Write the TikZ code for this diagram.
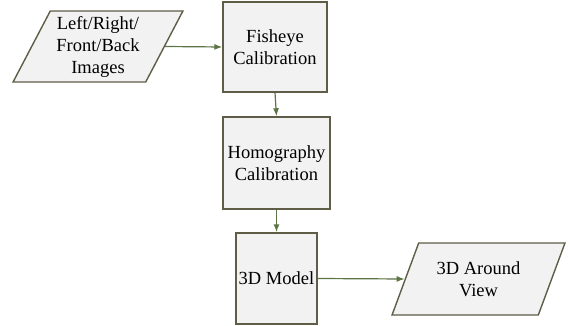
\documentclass[tikz,border=0pt]{standalone}
\usepackage{fontspec}
\setmainfont{Liberation Serif}
\usetikzlibrary{arrows.meta,shapes.geometric}

\definecolor{edgegray}{HTML}{5F5C48}
\definecolor{flowgreen}{HTML}{5D7545}
\definecolor{boxfill}{HTML}{F2F2F2}

\begin{document}
\begin{tikzpicture}[
  x=1pt, y=-1pt,
  proc/.style={draw=edgegray, fill=boxfill, line width=1.4pt, inner sep=0pt, align=center},
  io/.style={trapezium, trapezium left angle=62, trapezium right angle=118,
    trapezium stretches=true, draw=edgegray, fill=boxfill, line width=1.4pt,
    inner sep=0pt, align=center},
  flow/.style={-{Latex[length=8pt,width=6pt]}, draw=flowgreen, fill=flowgreen, line width=1.2pt},
  every node/.style={font=\fontsize{18.5}{22}\selectfont}
]
\useasboundingbox (0,0) rectangle (570,326);

\node[io, minimum width=170pt, minimum height=71pt] (imgs) at (98,46.5) {Left/Right/\\Front/Back\\Images};
\node[proc, minimum width=104pt, minimum height=90pt] (fish) at (275,47) {Fisheye\\Calibration};
\node[proc, minimum width=107pt, minimum height=92pt] (homo) at (276.5,163) {Homography\\Calibration};
\node[proc, minimum width=81pt, minimum height=91pt] (model) at (276.5,278.5) {3D Model};
\node[io, minimum width=173pt, minimum height=72pt] (view) at (478.5,279) {3D Around\\View};

\draw[flow] (imgs.east) -- (fish.west);
\draw[flow] (fish.south) -- (homo.north);
\draw[flow] (homo.south) -- (model.north);
\draw[flow] (model.east) -- (view.west);

\end{tikzpicture}
\end{document}
